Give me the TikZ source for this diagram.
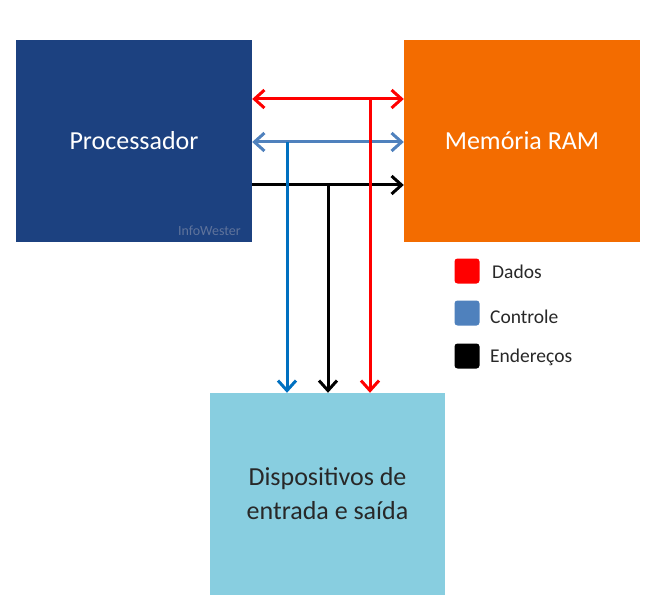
\documentclass[tikz,border=0pt]{standalone}
\usepackage{fontspec}
\setmainfont{Carlito}
\usetikzlibrary{arrows.meta}
\definecolor{procblue}{RGB}{28,65,128}
\definecolor{ramorange}{RGB}{243,108,0}
\definecolor{iolight}{RGB}{136,206,224}
\definecolor{ctrlblue}{RGB}{79,129,189}
\definecolor{ctrlvert}{RGB}{0,112,192}
\definecolor{infogray}{RGB}{95,115,155}
\definecolor{txtdark}{RGB}{40,40,40}
\tikzset{
  box/.style={rectangle, inner sep=0pt, minimum width=236pt, minimum height=202pt, align=center, font=\fontsize{26}{34}\selectfont},
  bus/.style={line width=3pt, arrows={-Straight Barb[length=10pt,width=18pt,line width=3pt]}},
  bibus/.style={line width=3pt, arrows={Straight Barb[length=10pt,width=18pt,line width=3pt]-Straight Barb[length=10pt,width=18pt,line width=3pt]}},
  legsq/.style={rectangle, rounded corners=3pt, minimum size=25pt, inner sep=0pt},
  legtxt/.style={anchor=west, inner sep=0pt, text=txtdark, font=\fontsize{19.5}{22}\selectfont}
}
\begin{document}
\begin{tikzpicture}[x=1pt,y=-1pt]
\useasboundingbox[fill=white] (0,0) rectangle (662,615);
\node[box, fill=procblue, text=white] (proc) at (134,141) {Processador};
\node[box, fill=ramorange, text=white] (ram) at (522,141) {Memória RAM};
\node[box, fill=iolight, text=txtdark, minimum width=235pt] (io) at (327.5,494) {Dispositivos de\\entrada e saída};
\node[anchor=east, inner sep=0pt, text=infogray, font=\fontsize{14}{16}\selectfont] (iw) at (241,231) {InfoWester};
% junction coordinates
\coordinate (jr) at (370,99);
\coordinate (jb) at (287,142);
\coordinate (jk) at (328,185);
% horizontal buses
\draw[bibus, red] (proc.east |- jr) -- (ram.west |- jr);
\draw[bibus, ctrlblue] (proc.east |- jb) -- (ram.west |- jb);
\draw[bus, black] (proc.east |- jk) -- (ram.west |- jk);
% vertical buses
\draw[bus, ctrlvert] (jb) -- (jb |- io.north);
\draw[bus, black] (jk) -- (jk |- io.north);
\draw[bus, red] (jr) -- (jr |- io.north);
% legend
\node[legsq, fill=red] (l1) at (467,271) {};
\node[legsq, fill=ctrlblue] (l2) at (467,313) {};
\node[legsq, fill=black] (l3) at (467,356) {};
\node[legtxt] (t1) at (492,272) {Dados};
\node[legtxt] (t2) at (490,317) {Controle};
\node[legtxt] (t3) at (490,357) {Endereços};
\end{tikzpicture}
\end{document}
